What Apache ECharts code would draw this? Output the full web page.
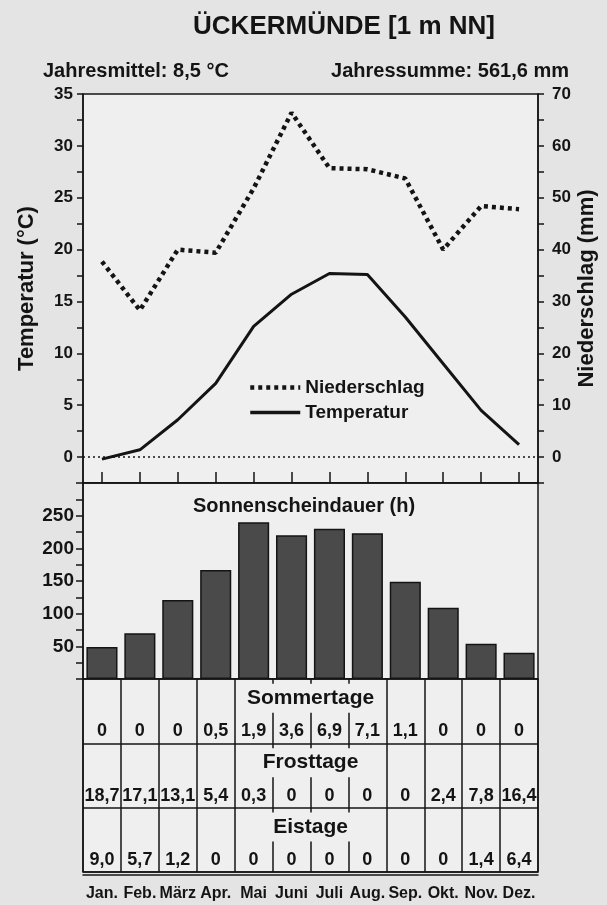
<!DOCTYPE html>
<html>
<head>
<meta charset="utf-8">
<script src="https://cdn.jsdelivr.net/npm/echarts@6/dist/echarts.min.js"></script>
<style>
  html, body { margin: 0; padding: 0; background: #e4e4e4; }
  #chart { width: 607px; height: 905px; }
</style>
</head>
<body>
<div id="chart"></div>
<script>
// Klimadaten Ückermünde
const months = ['Jan.', 'Feb.', 'März', 'Apr.', 'Mai', 'Juni', 'Juli', 'Aug.', 'Sep.', 'Okt.', 'Nov.', 'Dez.']
const temperatur = [-0.2, 0.7, 3.6, 7.1, 12.6, 15.7, 17.7, 17.6, 13.5, 9.0, 4.5, 1.2]
const niederschlag = [37.7, 28.3, 40.0, 39.4, 51.8, 66.4, 55.7, 55.5, 53.7, 40.0, 48.4, 47.8]
const sonnenschein = [49, 70, 121, 167, 240, 220, 230, 223, 149, 109, 54, 40]
const sommertage = [0, 0, 0, 0.5, 1.9, 3.6, 6.9, 7.1, 1.1, 0, 0, 0]
const frosttage = [18.7, 17.1, 13.1, 5.4, 0.3, 0, 0, 0, 0, 2.4, 7.8, 16.4]
const eistage = [9.0, 5.7, 1.2, 0, 0, 0, 0, 0, 0, 0, 1.4, 6.4]
const tabellenNamen = ['Sommertage', 'Frosttage', 'Eistage']
const tabellenWerte = [sommertage, frosttage, eistage]

const FONT = "'Liberation Sans', Arial, sans-serif"
const INK = '#141414'
const PAPER = '#efefef'

// Dezimalkomma wie im Original
const fmt = v => (v === 0 ? '0' : v.toFixed(1).replace('.', ','))

const chart = echarts.init(document.getElementById('chart'))

const gridBase = { left: 83, right: 69, show: true, backgroundColor: PAPER, borderColor: INK, borderWidth: 1.5, outerBoundsMode: 'none', containLabel: false }
const txt = (size, extra) => Object.assign({ color: INK, fontFamily: FONT, fontWeight: 'bold', fontSize: size }, extra || {})

// Tabelle: pro Zeile eine Überschrift und eine Wertezeile
const tabellenSerien = []
tabellenNamen.forEach((name, r) => {
  tabellenSerien.push({
    type: 'scatter',
    xAxisIndex: 2,
    yAxisIndex: 3,
    symbolSize: 0,
    silent: true,
    itemStyle: { opacity: 1 },
    data: [[5, 2 * r + 0.6, name]],
    label: {
      show: true,
      position: 'inside',
      offset: [19, 0],
      formatter: p => p.value[2],
      backgroundColor: PAPER,
      padding: [7, 3, 1, 3],
      ...txt(21)
    }
  })
  tabellenSerien.push({
    type: 'scatter',
    xAxisIndex: 2,
    yAxisIndex: 3,
    symbolSize: 0,
    silent: true,
    itemStyle: { opacity: 1 },
    data: tabellenWerte[r].map((v, i) => [i, 2 * r + 1.63, v]),
    label: {
      show: true,
      position: 'inside',
      formatter: p => fmt(p.value[2]),
      ...txt(18)
    }
  })
})

const option = {
  backgroundColor: '#e4e4e4',
  animation: false,
  graphic: [
    { type: 'text', x: 344, y: 27, style: { text: 'ÜCKERMÜNDE [1 m NN]', fill: INK, font: 'bold 26px ' + FONT, textAlign: 'center', textVerticalAlign: 'middle', align: 'center', verticalAlign: 'middle' } },
    { type: 'text', x: 43, y: 71, style: { text: 'Jahresmittel: 8,5 °C', fill: INK, font: 'bold 20px ' + FONT, textAlign: 'left', textVerticalAlign: 'middle', align: 'left', verticalAlign: 'middle' } },
    { type: 'text', x: 569, y: 71, style: { text: 'Jahressumme: 561,6 mm', fill: INK, font: 'bold 20px ' + FONT, textAlign: 'right', textVerticalAlign: 'middle', align: 'right', verticalAlign: 'middle' } },
    { type: 'text', x: 304, y: 506, z: 10, style: { text: 'Sonnenscheindauer (h)', fill: INK, font: 'bold 20px ' + FONT, textAlign: 'center', textVerticalAlign: 'middle', align: 'center', verticalAlign: 'middle' } }
  ],
  legend: {
    data: [
      { name: 'Niederschlag', lineStyle: { width: 4.5, type: [4, 4] } },
      { name: 'Temperatur', lineStyle: { width: 3.5 } }
    ],
    orient: 'vertical',
    left: 243,
    top: 373,
    itemWidth: 50,
    itemHeight: 14,
    itemGap: 6,
    itemStyle: { opacity: 0 },
    textStyle: txt(19)
  },
  grid: [
    { ...gridBase, top: 94, height: 389 },
    { ...gridBase, top: 483, height: 196 },
    { ...gridBase, top: 679, height: 193 }
  ],
  xAxis: [
    {
      type: 'category', gridIndex: 0, data: months, boundaryGap: true,
      axisLine: { onZero: false, lineStyle: { color: INK, width: 1.5 } },
      axisTick: { show: true, interval: 0, inside: true, length: 11, alignWithLabel: true, lineStyle: { color: INK, width: 1.5 } },
      axisLabel: { show: false, interval: 0 }
    },
    {
      type: 'category', gridIndex: 1, data: months, boundaryGap: true,
      axisLine: { show: false }, axisTick: { show: false }, axisLabel: { show: false }
    },
    {
      type: 'category', gridIndex: 2, data: months, boundaryGap: true, offset: 3,
      axisLine: { onZero: false, lineStyle: { color: INK, width: 1.5 } },
      axisTick: { interval: 0, length: 6, lineStyle: { color: INK, width: 1.5 } },
      axisLabel: { interval: 0, margin: 11, ...txt(16) },
      splitLine: { show: true, interval: 0, lineStyle: { color: INK, width: 1.5 } }
    }
  ],
  yAxis: [
    {
      type: 'value', gridIndex: 0, min: -2.5, max: 35, interval: 2.5,
      name: 'Temperatur (°C)', nameLocation: 'middle', nameRotate: 90, nameGap: 45,
      nameTextStyle: txt(22),
      axisLine: { show: true, onZero: false, lineStyle: { color: INK, width: 1.5 } },
      axisTick: { show: true, length: 6, lineStyle: { color: INK, width: 1.5 } },
      axisLabel: { margin: 10, formatter: v => (v >= 0 && v % 5 === 0 ? String(v) : ''), ...txt(17) },
      splitLine: { show: false }
    },
    {
      type: 'value', gridIndex: 0, position: 'right', min: -5, max: 70, interval: 5,
      name: 'Niederschlag (mm)', nameLocation: 'middle', nameRotate: 90, nameGap: 38,
      nameMoveOverlap: false,
      nameTextStyle: txt(22),
      axisLine: { show: true, onZero: false, lineStyle: { color: INK, width: 1.5 } },
      axisTick: { show: true, length: 6, lineStyle: { color: INK, width: 1.5 } },
      axisLabel: { margin: 14, formatter: v => (v >= 0 && v % 10 === 0 ? String(v) : ''), ...txt(17) },
      splitLine: { show: false }
    },
    {
      type: 'value', gridIndex: 1, min: 0, max: 300, interval: 25,
      axisLine: { show: true, lineStyle: { color: INK, width: 1.5 } },
      axisTick: { show: true, length: 7, lineStyle: { color: INK, width: 1.5 } },
      axisLabel: { margin: 9, formatter: v => (v >= 50 && v <= 250 && v % 50 === 0 ? String(v) : ''), ...txt(19) },
      splitLine: { show: false }
    },
    {
      type: 'value', gridIndex: 2, min: 0, max: 6, interval: 2, inverse: true,
      axisLine: { show: false }, axisTick: { show: false }, axisLabel: { show: false },
      splitLine: { show: true, lineStyle: { color: INK, width: 1.5 } }
    }
  ],
  series: [
    {
      name: 'Niederschlag',
      type: 'line',
      xAxisIndex: 0,
      yAxisIndex: 1,
      data: niederschlag,
      symbol: 'none',
      lineStyle: { color: INK, width: 4.5, type: [4, 4], cap: 'butt' },
      itemStyle: { color: INK },
      z: 3
    },
    {
      name: 'Temperatur',
      type: 'line',
      xAxisIndex: 0,
      yAxisIndex: 0,
      data: temperatur,
      symbol: 'none',
      lineStyle: { color: INK, width: 3 },
      itemStyle: { color: INK },
      z: 3,
      markLine: {
        silent: true,
        symbol: 'none',
        label: { show: false },
        lineStyle: { color: INK, width: 1.5, type: [2, 3] },
        data: [{ yAxis: 0 }]
      }
    },
    {
      name: 'Sonnenscheindauer',
      type: 'bar',
      xAxisIndex: 1,
      yAxisIndex: 2,
      data: sonnenschein,
      barCategoryGap: '18%',
      itemStyle: { color: '#4a4a4a', borderColor: INK, borderWidth: 1.5 }
    },
    ...tabellenSerien
  ]
}

chart.setOption(option)
</script>
</body>
</html>
